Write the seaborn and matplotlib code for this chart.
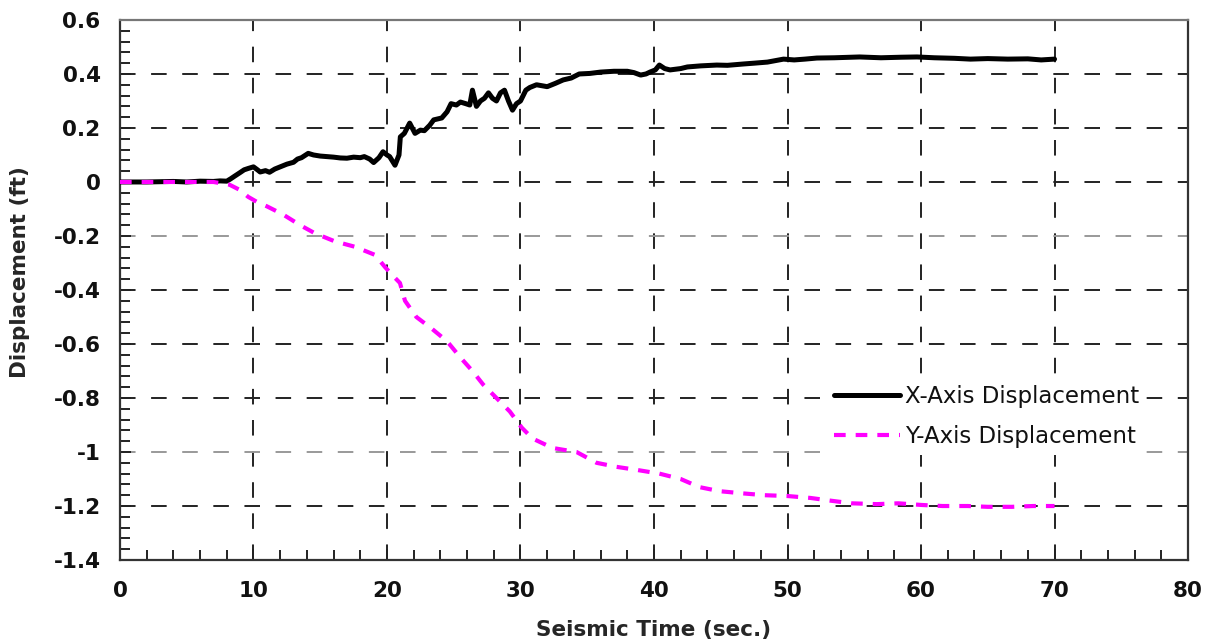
import numpy as np
import pandas as pd
import matplotlib
matplotlib.use("Agg")
import matplotlib.pyplot as plt
from matplotlib.ticker import MultipleLocator
import seaborn as sns

# X-axis displacement record (time in s, displacement in ft)
x_time = [0, 2, 4, 5, 6, 7, 7.5, 8, 8.3, 8.6, 9.0, 9.3, 9.6, 10.0, 10.3, 10.5, 10.9, 11.2,
          11.6, 12.1, 12.5, 13.0, 13.3, 13.6, 14.1, 14.5, 15.0, 15.5, 16.0, 16.5, 17.0, 17.5,
          18.0, 18.3, 18.7, 19.0, 19.4, 19.7, 20.0, 20.2, 20.6, 20.9, 21.0, 21.3, 21.7, 22.1,
          22.5, 22.8, 23.2, 23.5, 24.1, 24.5, 24.8, 25.2, 25.5, 25.9, 26.2, 26.4, 26.7, 27.0,
          27.3, 27.6, 27.9, 28.2, 28.5, 28.8, 29.1, 29.4, 29.7, 30.0, 30.4, 30.7, 31.2, 32.0,
          32.6, 33.2, 33.8, 34.4, 35.2, 36.0, 37.0, 38.0, 38.5, 39.0, 39.4, 39.7, 40.1, 40.4,
          40.8, 41.2, 42.0, 42.5, 43.5, 44.7, 45.5, 46.7, 47.5, 48.5, 49.7, 50.5, 51.3, 52.2,
          53.5, 55.4, 57.0, 58.5, 59.7, 61.0, 62.5, 63.7, 65.0, 66.5, 68.0, 69.0, 70.0]
x_disp = [0, 0, 0.002, 0, 0.003, 0.002, 0.004, 0.003, 0.012, 0.022, 0.035, 0.045, 0.05, 0.056,
          0.045, 0.037, 0.042, 0.036, 0.048, 0.058, 0.066, 0.073, 0.085, 0.09, 0.106, 0.1, 0.096,
          0.094, 0.092, 0.089, 0.088, 0.092, 0.09, 0.094, 0.085, 0.072, 0.09, 0.112, 0.1, 0.094,
          0.062, 0.1, 0.167, 0.18, 0.218, 0.18, 0.192, 0.19, 0.21, 0.23, 0.237, 0.26, 0.29, 0.285,
          0.296, 0.29, 0.285, 0.34, 0.28, 0.3, 0.31, 0.33, 0.31, 0.30, 0.33, 0.34, 0.30, 0.266,
          0.29, 0.30, 0.34, 0.35, 0.36, 0.353, 0.365, 0.378, 0.385, 0.40, 0.402, 0.407, 0.41,
          0.41, 0.405, 0.396, 0.40, 0.407, 0.415, 0.433, 0.42, 0.415, 0.42, 0.426, 0.43, 0.433,
          0.432, 0.437, 0.44, 0.444, 0.455, 0.452, 0.455, 0.459, 0.46, 0.463, 0.46, 0.462, 0.463,
          0.46, 0.458, 0.455, 0.457, 0.455, 0.456, 0.452, 0.455]

# Y-axis displacement record
y_time = [0, 7, 8.2, 9.0, 9.6, 10.3, 11.0, 12.2, 13.5, 14.6, 16.1, 17.6, 19.1, 19.85, 20.5,
          20.97, 21.35, 22.2, 23.4, 24.5, 25.5, 26.4, 27.2, 28.2, 29.2, 30.1, 30.9, 32.4, 34.2,
          35.7, 37.2, 38.8, 40.4, 42.0, 43.4, 44.9, 46.6, 48.3, 50.0, 51.7, 53.2, 54.8, 56.7,
          58.3, 60.0, 61.6, 63.5, 65.0, 66.8, 68.4, 70.0]
y_disp = [0, 0, -0.01, -0.03, -0.055, -0.075, -0.09, -0.12, -0.16, -0.19, -0.22, -0.24, -0.27,
          -0.315, -0.35, -0.374, -0.44, -0.5, -0.545, -0.59, -0.65, -0.70, -0.75, -0.80, -0.85,
          -0.91, -0.95, -0.985, -1.0, -1.04, -1.055, -1.067, -1.08, -1.10, -1.13, -1.145, -1.153,
          -1.16, -1.163, -1.17, -1.18, -1.19, -1.193, -1.19, -1.196, -1.2, -1.2, -1.203, -1.203,
          -1.2, -1.2]

series_names = ["X-Axis Displacement", "Y-Axis Displacement"]
x_ticks = [0, 10, 20, 30, 40, 50, 60, 70, 80]
y_ticks = [0.6, 0.4, 0.2, 0, -0.2, -0.4, -0.6, -0.8, -1, -1.2, -1.4]
light_grid_levels = [-0.2, -1.0]

sns.set_style("white")
plt.rcParams["font.family"] = ["DejaVu Sans"]

fig = plt.figure(figsize=(12.18, 6.44), dpi=100)
ax = fig.add_axes([0.0985, 0.1304, 0.8769, 0.8386])

df_x = pd.DataFrame({"t": x_time, "d": x_disp})
df_y = pd.DataFrame({"t": y_time, "d": y_disp})

sns.lineplot(data=df_x, x="t", y="d", ax=ax, color="black", linewidth=3.6,
             estimator=None, sort=False, label=series_names[0], zorder=3)
sns.lineplot(data=df_y, x="t", y="d", ax=ax, color="#ff00ff", linewidth=3.0,
             estimator=None, sort=False, label=series_names[1], zorder=4)
ax.lines[1].set_dashes((2.8, 2.4))

ax.set_xlim(0, 80)
ax.set_ylim(-1.4, 0.6)
ax.set_xticks(x_ticks)
ax.set_yticks(y_ticks)
ax.set_xticklabels([f"{v:g}" for v in x_ticks])
ax.set_yticklabels([f"{v:g}" for v in y_ticks])
ax.xaxis.set_minor_locator(MultipleLocator(2))
ax.yaxis.set_minor_locator(MultipleLocator(0.04))

ax.tick_params(axis="both", which="both", direction="in", colors="#222222",
               width=1.4, bottom=True, left=True, top=False, right=False)
ax.tick_params(axis="both", which="major", length=8)
ax.tick_params(axis="both", which="minor", length=7)
ax.tick_params(axis="y", which="major", pad=14, labelsize=15.5, labelcolor="#111111")
ax.tick_params(axis="x", which="major", pad=15, labelsize=15.5, labelcolor="#111111")
for lab in ax.get_xticklabels() + ax.get_yticklabels():
    lab.set_fontweight("bold")

# dashed grid, a lighter tone on two of the levels
ax.grid(True, which="major", linestyle=(0, (8, 8)), linewidth=1.4, color="#222222")
for line, val in zip(ax.get_ygridlines(), y_ticks):
    if any(abs(val - g) < 1e-9 for g in light_grid_levels):
        line.set_color("#999999")

for side in ["left", "bottom", "top", "right"]:
    ax.spines[side].set_visible(True)
    ax.spines[side].set_linewidth(1.6)
    ax.spines[side].set_color("#333333")
ax.spines["top"].set_color("#777777")

ax.set_xlabel("Seismic Time (sec.)", fontsize=15.5, fontweight="bold")
ax.set_ylabel("Displacement (ft)", fontsize=15.5, fontweight="bold")
ax.xaxis.set_label_coords(0.5, -0.111)
ax.yaxis.set_label_coords(-0.084, 0.533)

leg = ax.legend(loc="upper left", bbox_to_anchor=(0.662, 0.336), frameon=True,
                fontsize=16.5, handlelength=2.9, handletextpad=0.2, labelspacing=0.72,
                borderaxespad=0, borderpad=0.3, fancybox=False)
leg.get_frame().set_facecolor("white")
leg.get_frame().set_edgecolor("none")
leg.get_frame().set_alpha(1.0)
leg.set_zorder(5)
for txt in leg.get_texts():
    txt.set_color("#111111")

fig.savefig("out.png", dpi=100)
